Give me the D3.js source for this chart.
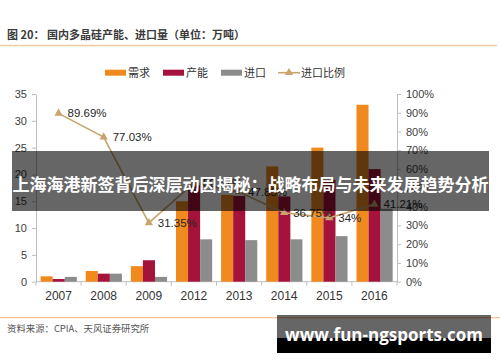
<!DOCTYPE html>
<html>
<head>
<meta charset="utf-8">
<script src="https://cdn.jsdelivr.net/npm/d3@7"></script>
<style>
  body { margin: 0; background: #fff; }
  svg { display: block; }
</style>
</head>
<body>
<svg id="chart" width="500" height="362"></svg>
<script>
'use strict';
// values (万吨, ratio in %)
const years = ['2007', '2008', '2009', '2012', '2013', '2014', '2015', '2016'];
const demand = [1.0, 2.0, 2.9, 15.0, 16.2, 21.5, 25.0, 33.0];
const capacity = [0.5, 1.5, 4.0, 18.0, 16.0, 15.9, 19.0, 21.0];
const imports = [0.9, 1.5, 0.9, 7.9, 7.75, 7.9, 8.5, 13.6];
const ratio = [89.69, 77.03, 31.35, 52.67, 47.83, 36.75, 34, 41.21];
const ratioLabels = ['89.69%', '77.03%', '31.35%', '52.67%', '47.83%', '36.75%', '34%', '41.21%'];
const leftTicks = [0, 5, 10, 15, 20, 25, 30, 35];
const rightTicks = [0, 10, 20, 30, 40, 50, 60, 70, 80, 90, 100];
const seriesNames = ['需求', '产能', '进口'];
const lineName = '进口比例';

const colors = ['#F08A1E', '#A5123B', '#8C8C8C'];
const lineColor = '#C9A46C';
const axisColor = '#BFBFBF';
const latin = '"Liberation Sans", Arial, sans-serif';
const cjk = '"Noto Sans CJK SC", sans-serif';

const svg = d3.select('#chart');

// header
svg.append('text')
  .attr('x', 7).attr('y', 39)
  .attr('font-family', cjk).attr('font-size', 11).attr('font-weight', 'bold')
  .attr('fill', '#3a3a3a')
  .text('图 20：  国内多晶硅产能、进口量（单位：万吨）');
svg.append('line')
  .attr('x1', 0).attr('x2', 497).attr('y1', 45.5).attr('y2', 45.5)
  .attr('stroke', '#F4CBA6').attr('stroke-width', 1.5);

// scales
const plot = { left: 36, right: 397, top: 94, bottom: 281.7 };
const x = d3.scaleBand().domain(years).range([plot.left, plot.right]);
const xs = d3.scaleBand().domain(seriesNames).range([4.6, 40.8]);
const y = d3.scaleLinear().domain([0, 35]).range([plot.bottom, plot.top]);
const y2 = d3.scaleLinear().domain([0, 100]).range([plot.bottom, plot.top]);

// axes
const styleAxis = (g) => {
  g.selectAll('path, line').attr('stroke', axisColor);
  g.selectAll('text').attr('fill', '#404040').attr('font-family', latin).attr('font-size', 11);
};
svg.append('g')
  .attr('transform', `translate(${plot.left},0)`)
  .call(d3.axisLeft(y).tickValues(leftTicks).tickSize(4).tickSizeOuter(0).tickPadding(5))
  .call(styleAxis);
svg.append('g')
  .attr('transform', `translate(${plot.right},0)`)
  .call(d3.axisRight(y2).tickValues(rightTicks).tickSize(4).tickSizeOuter(0).tickPadding(5)
    .tickFormat((d) => `${d}%`))
  .call(styleAxis);

// x axis: ticks at the band edges
const xAxis = svg.append('g').attr('transform', `translate(0,${plot.bottom})`);
xAxis.append('line').attr('x1', plot.left).attr('x2', plot.right).attr('stroke', axisColor);
xAxis.selectAll('.edge')
  .data(years.concat(['end']))
  .join('line')
  .attr('class', 'edge')
  .attr('x1', (d, i) => plot.left + i * x.step())
  .attr('x2', (d, i) => plot.left + i * x.step())
  .attr('y1', 0).attr('y2', 4)
  .attr('stroke', axisColor);
xAxis.selectAll('.year')
  .data(years)
  .join('text')
  .attr('class', 'year')
  .attr('x', (d) => x(d) + x.bandwidth() / 2)
  .attr('y', 18)
  .attr('text-anchor', 'middle')
  .attr('font-family', latin).attr('font-size', 12).attr('fill', '#333')
  .text((d) => d);

// bars
[demand, capacity, imports].forEach((vals, idx) => {
  svg.append('g')
    .selectAll('rect')
    .data(vals)
    .join('rect')
    .attr('x', (d, i) => x(years[i]) + xs(seriesNames[idx]))
    .attr('width', xs.bandwidth())
    .attr('y', (d) => y(d))
    .attr('height', (d) => y(0) - y(d))
    .attr('fill', colors[idx]);
});

// ratio line
const cx = (i) => x(years[i]) + x.bandwidth() / 2;
svg.append('path')
  .datum(ratio)
  .attr('fill', 'none')
  .attr('stroke', lineColor).attr('stroke-width', 1.6)
  .attr('d', d3.line().x((d, i) => cx(i)).y((d) => y2(d)));
const tri = d3.symbol().type(d3.symbolTriangle).size(30);
svg.append('g')
  .selectAll('path')
  .data(ratio)
  .join('path')
  .attr('transform', (d, i) => `translate(${cx(i)},${y2(d)})`)
  .attr('d', tri)
  .attr('fill', lineColor);
svg.append('g')
  .selectAll('text')
  .data(ratio)
  .join('text')
  .attr('x', (d, i) => cx(i) + 9)
  .attr('y', (d) => y2(d) + 4)
  .attr('font-family', latin).attr('font-size', 11.5).attr('fill', '#262626')
  .text((d, i) => ratioLabels[i]);

// legend
const legend = svg.append('g').attr('transform', 'translate(0,72.7)');
const legendX = [105, 163, 221];
seriesNames.forEach((name, idx) => {
  legend.append('rect')
    .attr('x', legendX[idx]).attr('y', -3).attr('width', 21).attr('height', 6)
    .attr('fill', colors[idx]);
  legend.append('text')
    .attr('x', legendX[idx] + 23).attr('y', 4)
    .attr('font-family', cjk).attr('font-size', 11).attr('fill', '#333')
    .text(name);
});
legend.append('line')
  .attr('x1', 278).attr('x2', 300).attr('stroke', lineColor).attr('stroke-width', 1.6);
legend.append('path').attr('transform', 'translate(289,0)').attr('d', tri).attr('fill', lineColor);
legend.append('text')
  .attr('x', 301).attr('y', 4)
  .attr('font-family', cjk).attr('font-size', 11).attr('fill', '#333')
  .text(lineName);

// footer
svg.append('line')
  .attr('x1', 0).attr('x2', 500).attr('y1', 317.7).attr('y2', 317.7)
  .attr('stroke', '#F6B07A').attr('stroke-width', 1);
svg.append('text')
  .attr('x', 7).attr('y', 331.5)
  .attr('font-family', cjk).attr('font-size', 9.4).attr('fill', '#555')
  .text('资料来源：CPIA、天风证券研究所');

// overlay banner
svg.append('rect')
  .attr('x', 12).attr('y', 151).attr('width', 477).attr('height', 60)
  .attr('fill', 'rgba(0,0,0,0.6)');
svg.append('text')
  .attr('x', 250.5).attr('y', 190.5)
  .attr('text-anchor', 'middle')
  .attr('font-family', cjk).attr('font-size', 17).attr('font-weight', 'bold')
  .attr('fill', '#fff')
  .text('上海海港新签背后深层动因揭秘：战略布局与未来发展趋势分析');

// watermark
svg.append('rect')
  .attr('x', 277).attr('y', 315).attr('width', 214).attr('height', 23)
  .attr('fill', 'rgba(0,0,0,0.6)');
svg.append('rect')
  .attr('x', 277).attr('y', 338).attr('width', 214).attr('height', 15)
  .attr('fill', '#000');
svg.append('text')
  .attr('x', 384).attr('y', 341)
  .attr('text-anchor', 'middle')
  .attr('font-family', '"Open Sans", sans-serif').attr('font-size', 17).attr('font-weight', 'bold')
  .attr('fill', '#fff')
  .text('www.fun-ngsports.com');
</script>
</body>
</html>
